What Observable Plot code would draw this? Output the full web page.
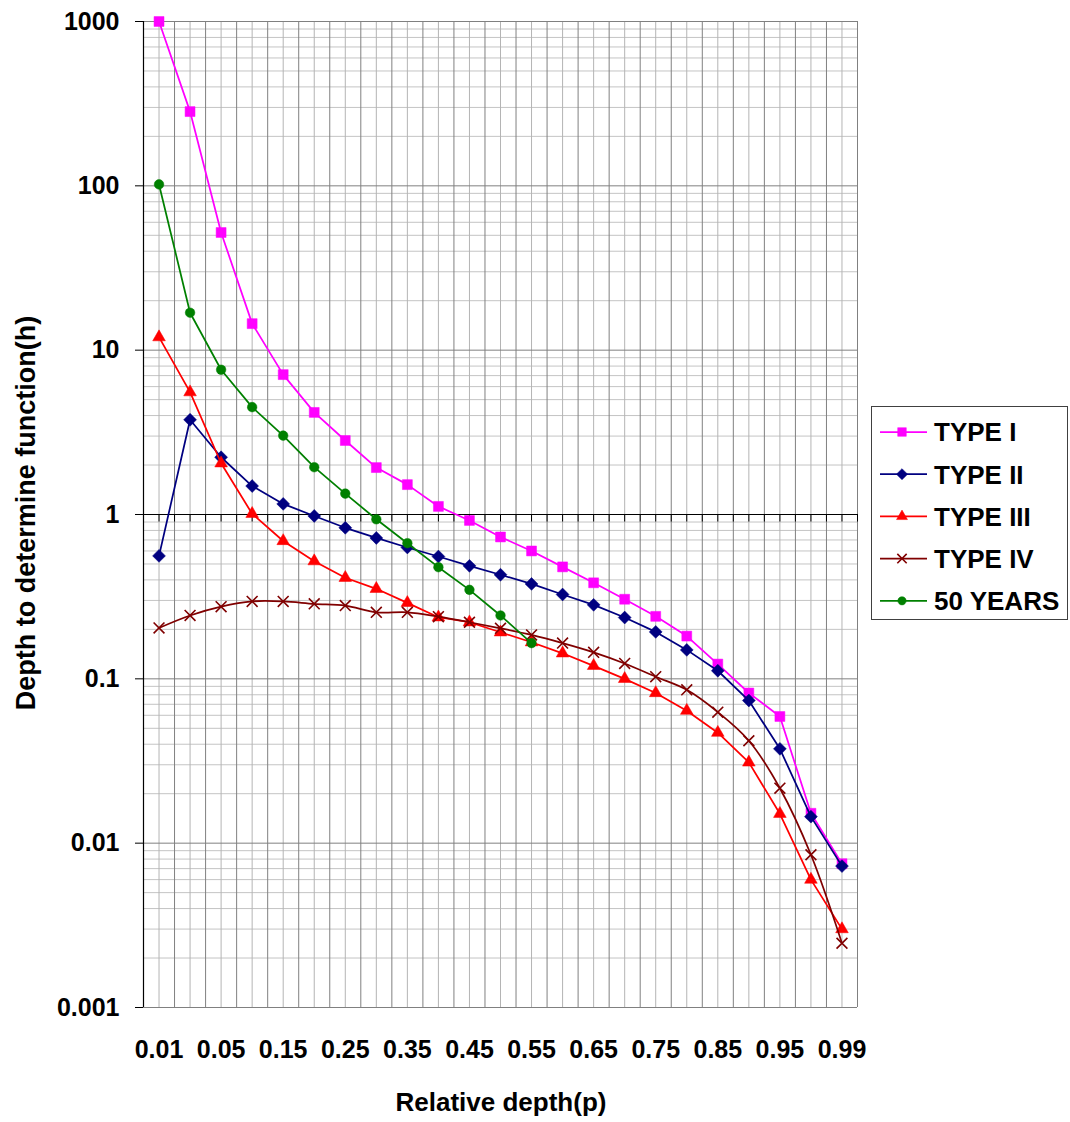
<!DOCTYPE html>
<html>
<head>
<meta charset="utf-8">
<script src="https://cdn.jsdelivr.net/npm/d3@7"></script>
<script src="https://cdn.jsdelivr.net/npm/@observablehq/plot@0.6"></script>
<style>
  html, body { margin: 0; padding: 0; background: #fff; }
  #wrap { position: relative; width: 1070px; height: 1122px; font-family: "Liberation Sans", Arial, sans-serif; font-weight: bold; color: #000; }
  #chart { position: absolute; left: 0; top: 0; }
  .title { position: absolute; font-size: 26px; font-weight: bold; white-space: nowrap; }
  #xtitle { left: 501px; top: 1102px; transform: translate(-50%, -50%); }
  #ytitle { left: 26px; top: 513px; font-size: 27px; transform: translate(-50%, -50%) rotate(-90deg); }
  #legend { position: absolute; left: 871px; top: 406px; }
</style>
</head>
<body>
<div id="wrap">
  <div id="chart"></div>
  <div class="title" id="xtitle">Relative depth(p)</div>
  <div class="title" id="ytitle">Depth to determine function(h)</div>
  <div id="legend"></div>
</div>
<script>
// ---- data ----
const depth = ["0.01","0.03","0.05","0.1","0.15","0.2","0.25","0.3","0.35","0.4","0.45","0.5","0.55","0.6","0.65","0.7","0.75","0.8","0.85","0.9","0.95","0.97","0.99"];
const typeI   = [1000, 283, 52, 14.5, 7.1, 4.18, 2.82, 1.93, 1.52, 1.12, 0.92, 0.73, 0.60, 0.48, 0.384, 0.305, 0.240, 0.182, 0.123, 0.082, 0.059, 0.0152, 0.0075];
const typeII  = [0.56, 3.77, 2.23, 1.49, 1.16, 0.98, 0.83, 0.72, 0.63, 0.555, 0.487, 0.43, 0.378, 0.326, 0.282, 0.236, 0.193, 0.150, 0.112, 0.0738, 0.0375, 0.0145, 0.00725];
const typeIII = [12.0, 5.55, 2.05, 1.01, 0.69, 0.52, 0.412, 0.353, 0.290, 0.237, 0.221, 0.192, 0.167, 0.143, 0.120, 0.100, 0.082, 0.064, 0.047, 0.031, 0.0151, 0.0060, 0.0030];
const typeIV  = [0.204, 0.243, 0.275, 0.296, 0.296, 0.286, 0.279, 0.254, 0.254, 0.239, 0.221, 0.203, 0.185, 0.165, 0.145, 0.124, 0.103, 0.0857, 0.0627, 0.042, 0.0216, 0.0085, 0.00246];
const years50 = [102, 16.9, 7.6, 4.5, 3.02, 1.94, 1.34, 0.935, 0.669, 0.478, 0.348, 0.243, 0.165];
const seriesNames = ["TYPE I", "TYPE II", "TYPE III", "TYPE IV", "50 YEARS"];
const yTicks = [0.001, 0.01, 0.1, 1, 10, 100, 1000];

// ---- styles ----
const seriesStyle = [
  {name: seriesNames[0], values: typeI,   color: "#FF00FF", symbol: "square",   r: 5.6, fill: true,  curve: "linear"},
  {name: seriesNames[1], values: typeII,  color: "#000080", symbol: "diamond2", r: 5.8, fill: true,  curve: "linear"},
  {name: seriesNames[2], values: typeIII, color: "#FF0000", symbol: "triangle", r: 4.7, fill: true,  curve: "linear"},
  {name: seriesNames[3], values: typeIV,  color: "#800000", symbol: "times",    r: 5.0, fill: false, curve: "catmull-rom"},
  {name: seriesNames[4], values: years50, color: "#008000", symbol: "circle",   r: 4.8, fill: true,  curve: "linear"}
];

const minorY = [];
for (let e = -3; e < 3; e++) for (let k = 2; k <= 9; k++) minorY.push(k * Math.pow(10, e));
const centers = d3.range(depth.length);
const bounds = d3.range(depth.length + 1).map(i => i - 0.5);
const allTickX = centers.concat(bounds);

const seriesMarks = seriesStyle.flatMap(s => {
  const data = s.values.map((v, i) => ({i, v}));
  return [
    Plot.line(data, {x: "i", y: "v", stroke: s.color, strokeWidth: 1.75, curve: s.curve}),
    Plot.dot(data, {
      x: "i", y: "v", symbol: s.symbol, r: s.r,
      fill: s.fill ? s.color : "none",
      stroke: s.color, strokeWidth: s.fill ? 0.5 : 1.6
    })
  ];
});

const chart = Plot.plot({
  width: 1070,
  height: 1122,
  marginTop: 21,
  marginBottom: 115,
  marginLeft: 143,
  marginRight: 213,
  style: {fontFamily: "'Liberation Sans', Arial, sans-serif", fontSize: "25px", fontWeight: "bold", color: "#000", background: "transparent"},
  x: {type: "linear", domain: [-0.5, depth.length - 0.5]},
  y: {type: "log", domain: [0.001, 1000]},
  marks: [
    Plot.ruleY(minorY, {stroke: "#c4c4c4", strokeWidth: 1}),
    Plot.ruleX(centers, {stroke: "#b4b4b4", strokeWidth: 1}),
    Plot.ruleX(bounds, {stroke: "#808080", strokeWidth: 1}),
    Plot.ruleY(yTicks, {stroke: "#808080", strokeWidth: 1}),
    Plot.ruleY([1], {stroke: "#000", strokeWidth: 1.2}),
    Plot.ruleX(allTickX, {y1: 1, y2: 0.9, stroke: "#000", strokeWidth: 1}),
    Plot.ruleX([-0.5], {stroke: "#000", strokeWidth: 1.2}),
    ...seriesMarks,
    Plot.axisY({ticks: yTicks, tickFormat: d => String(d), tickSize: 8, tickPadding: 16, label: null, fontSize: 25, fontWeight: "bold"}),
    Plot.axisX({ticks: centers.filter(i => i % 2 === 0), tickFormat: i => depth[i], tickSize: 0, tickPadding: 33, label: null, fontSize: 25, fontWeight: "bold"})
  ]
});
document.getElementById("chart").appendChild(chart);

// ---- legend ----
const lw = 197, lh = 214;
const leg = d3.select("#legend").append("svg").attr("width", lw).attr("height", lh);
leg.append("rect").attr("x", 0.5).attr("y", 0.5).attr("width", lw - 1).attr("height", lh - 1)
  .attr("fill", "#fff").attr("stroke", "#404040").attr("stroke-width", 1);
const symMap = {square: d3.symbolSquare, diamond2: d3.symbolDiamond2, triangle: d3.symbolTriangle, times: d3.symbolTimes, circle: d3.symbolCircle};
seriesStyle.forEach((s, k) => {
  const cy = 26 + k * 42.2;
  const g = leg.append("g").attr("transform", `translate(0,${cy})`);
  g.append("line").attr("x1", 9).attr("x2", 56).attr("y1", 0).attr("y2", 0).attr("stroke", s.color).attr("stroke-width", 1.75);
  g.append("path").attr("transform", "translate(31,0)")
    .attr("d", d3.symbol(symMap[s.symbol], Math.PI * s.r * s.r * 0.75)())
    .attr("fill", s.fill ? s.color : "none").attr("stroke", s.color).attr("stroke-width", s.fill ? 0.5 : 1.6);
  g.append("text").attr("x", 63).attr("y", 0).attr("dy", "0.36em")
    .attr("font-family", "'Liberation Sans', Arial, sans-serif").attr("font-weight", "bold").attr("font-size", 26)
    .text(s.name);
});
</script>
</body>
</html>
